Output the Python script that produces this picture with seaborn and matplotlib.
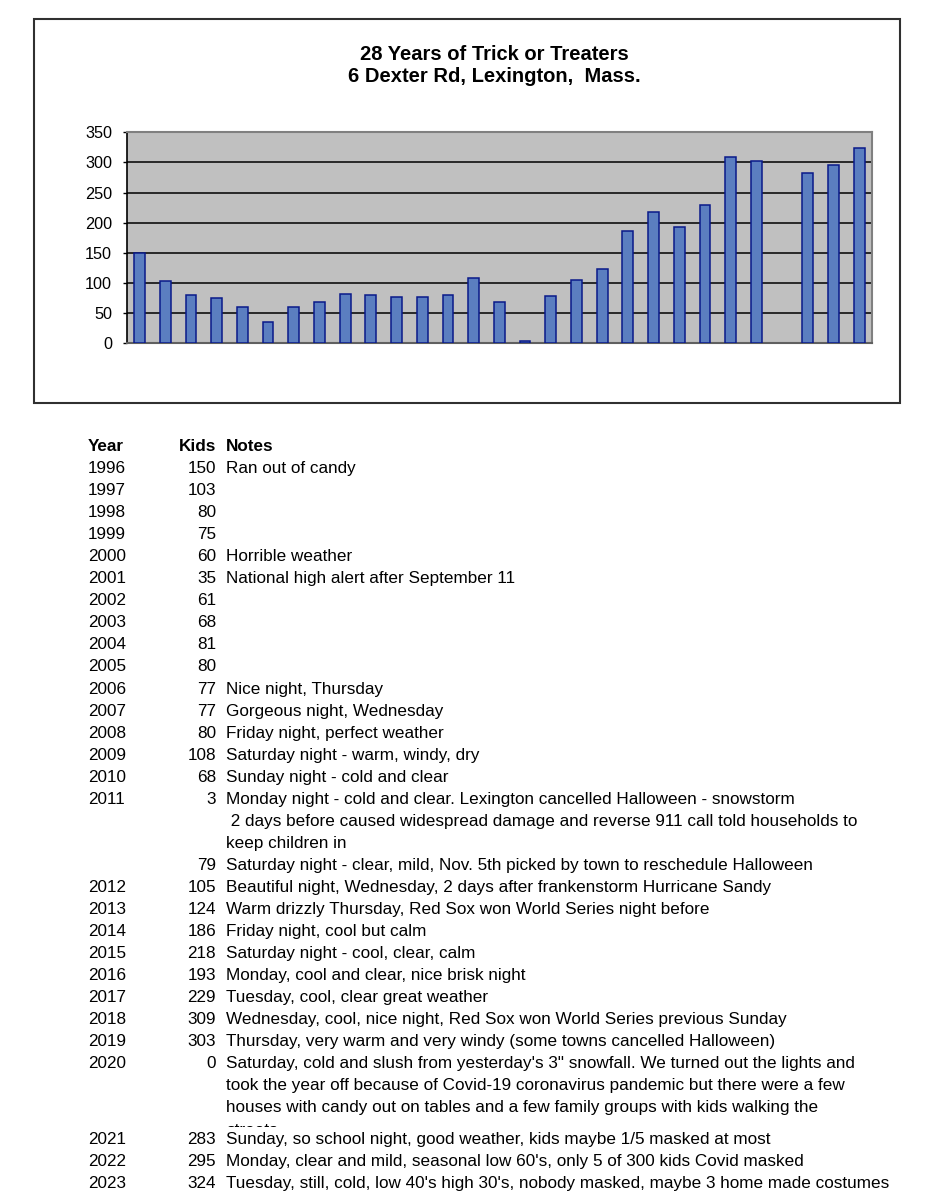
import matplotlib
matplotlib.use("Agg")
import matplotlib.pyplot as plt
import seaborn as sns
import pandas as pd
from matplotlib.patches import Rectangle
from matplotlib.transforms import Bbox, TransformedBbox

# ---------------- data ----------------
years = ["1996", "1997", "1998", "1999", "2000", "2001", "2002", "2003", "2004",
         "2005", "2006", "2007", "2008", "2009", "2010", "2011", "", "2012",
         "2013", "2014", "2015", "2016", "2017", "2018", "2019", "2020", "2021",
         "2022", "2023"]
kids = [150, 103, 80, 75, 60, 35, 61, 68, 81, 80, 77, 77, 80, 108, 68, 3, 79,
        105, 124, 186, 218, 193, 229, 309, 303, 0, 283, 295, 324]
notes = [
    ["Ran out of candy"], [], [], [],
    ["Horrible weather"],
    ["National high alert after September 11"],
    [], [], [], [],
    ["Nice night, Thursday"],
    ["Gorgeous night, Wednesday"],
    ["Friday night, perfect weather"],
    ["Saturday night - warm, windy, dry"],
    ["Sunday night - cold and clear"],
    ["Monday night - cold and clear. Lexington cancelled Halloween - snowstorm",
     " 2 days before caused widespread damage and reverse 911 call told households to",
     "keep children in"],
    ["Saturday night - clear, mild, Nov. 5th picked by town to reschedule Halloween"],
    ["Beautiful night, Wednesday, 2 days after frankenstorm Hurricane Sandy"],
    ["Warm drizzly Thursday, Red Sox won World Series night before"],
    ["Friday night, cool but calm"],
    ["Saturday night - cool, clear, calm"],
    ["Monday, cool and clear, nice brisk night"],
    ["Tuesday, cool, clear great weather"],
    ["Wednesday, cool, nice night, Red Sox won World Series previous Sunday"],
    ["Thursday, very warm and very windy (some towns cancelled Halloween)"],
    ["Saturday, cold and slush from yesterday's 3\" snowfall. We turned out the lights and",
     "took the year off because of Covid-19 coronavirus pandemic but there were a few",
     "houses with candy out on tables and a few family groups with kids walking the",
     "streets"],
    ["Sunday, so school night, good weather, kids maybe 1/5 masked at most"],
    ["Monday, clear and mild, seasonal low 60's, only 5 of 300 kids Covid masked"],
    ["Tuesday, still, cold, low 40's high 30's, nobody masked, maybe 3 home made costumes"],
]
title_lines = ["28 Years of Trick or Treaters", "6 Dexter Rd, Lexington,  Mass."]
header = ["Year", "Kids", "Notes"]
yticks = [0, 50, 100, 150, 200, 250, 300, 350]

# unique category labels for the bars (2011 has two entries)
bar_labels = [y if y else "2011 (Nov 5)" for y in years]
df = pd.DataFrame({"label": bar_labels, "kids": kids})

# ---------------- figure ----------------
sns.set_style("white")
plt.rcParams["font.family"] = ["Liberation Sans", "DejaVu Sans"]
plt.rcParams["text.color"] = "black"
plt.rcParams["ytick.color"] = "black"
plt.rcParams["ytick.labelcolor"] = "black"

W, H = 938, 1200
fig = plt.figure(figsize=(W / 100, H / 100), dpi=100)

def fx(px):
    return px / W

def fy(py):
    return 1 - py / H

# outer chart box
fig.patches.append(Rectangle((fx(33.5), fy(403)), fx(900 - 33.5), (403 - 18.5) / H,
                             transform=fig.transFigure, fill=False,
                             edgecolor="#303030", linewidth=1.5, zorder=0))

ax = fig.add_axes([fx(126.7), fy(343.3), fx(872 - 126.7), (343.3 - 132.3) / H])
ax.set_facecolor("#C0C0C0")
ax.set_axisbelow(True)
ax.yaxis.grid(True, color="black", linewidth=1.1)
ax.xaxis.grid(False)

sns.barplot(data=df, x="label", y="kids", order=bar_labels, color="#5B7EC0",
            saturation=1, width=0.42, edgecolor="#0A1A8A", linewidth=1.1, ax=ax,
            zorder=3)
# a zero-height bar shows no outline
for p in ax.patches:
    if p.get_height() == 0:
        p.set_linewidth(0)

ax.set_xlim(-0.5, len(bar_labels) - 0.5)
ax.set_ylim(0, 350)
ax.set_yticks(yticks)
ax.set_yticklabels([str(v) for v in yticks], fontsize=11.7, color="black")
ax.tick_params(axis="y", direction="out", length=3, width=1.0, color="black",
               pad=7.5, left=True)
ax.tick_params(axis="x", bottom=False, labelbottom=False)
ax.set_xlabel("")
ax.set_ylabel("")
for s in ["top", "right"]:
    ax.spines[s].set_color("#808080")
    ax.spines[s].set_linewidth(1.5)
ax.spines["bottom"].set_color("#606060")
ax.spines["bottom"].set_linewidth(1.5)
ax.spines["left"].set_color("black")
ax.spines["left"].set_linewidth(1.2)

# title
fig.text(fx(494), fy(54.5), title_lines[0], ha="center", va="center",
         fontsize=14.5, fontweight="bold")
fig.text(fx(494), fy(77), title_lines[1], ha="center", va="center",
         fontsize=14.5, fontweight="bold")

# ---------------- table ----------------
fs = 12.3
x_year, x_kids, x_notes = 88, 216, 226
line_h = 22.05
base_off = 6.0  # baseline below cap-center

y_c = 445.0
fig.text(fx(x_year), fy(y_c + base_off), header[0], ha="left", va="baseline",
         fontsize=fs, fontweight="bold")
fig.text(fx(x_kids), fy(y_c + base_off), header[1], ha="right", va="baseline",
         fontsize=fs, fontweight="bold")
fig.text(fx(x_notes), fy(y_c + base_off), header[2], ha="left", va="baseline",
         fontsize=fs, fontweight="bold")

y_c += line_h
for yr, k, nl in zip(years, kids, notes):
    n_lines = max(1, len(nl))
    cell_h = n_lines * line_h
    if yr == "2020":
        cell_h = 3.42 * line_h  # spreadsheet row cuts off the last line
    cell_top = y_c - 11
    cell_bot = cell_top + cell_h
    clip = TransformedBbox(Bbox([[0, fy(cell_bot)], [1, fy(cell_top - 6)]]),
                           fig.transFigure)
    if yr:
        fig.text(fx(x_year), fy(y_c + base_off), yr, ha="left", va="baseline",
                 fontsize=fs)
    fig.text(fx(x_kids), fy(y_c + base_off), str(k), ha="right", va="baseline",
             fontsize=fs)
    for j, line in enumerate(nl):
        t = fig.text(fx(x_notes), fy(y_c + j * line_h + base_off), line,
                     ha="left", va="baseline", fontsize=fs)
        t.set_clip_on(True)
        t.set_clip_box(clip)
    y_c = cell_bot + 11

fig.savefig("out.png", dpi=100)
